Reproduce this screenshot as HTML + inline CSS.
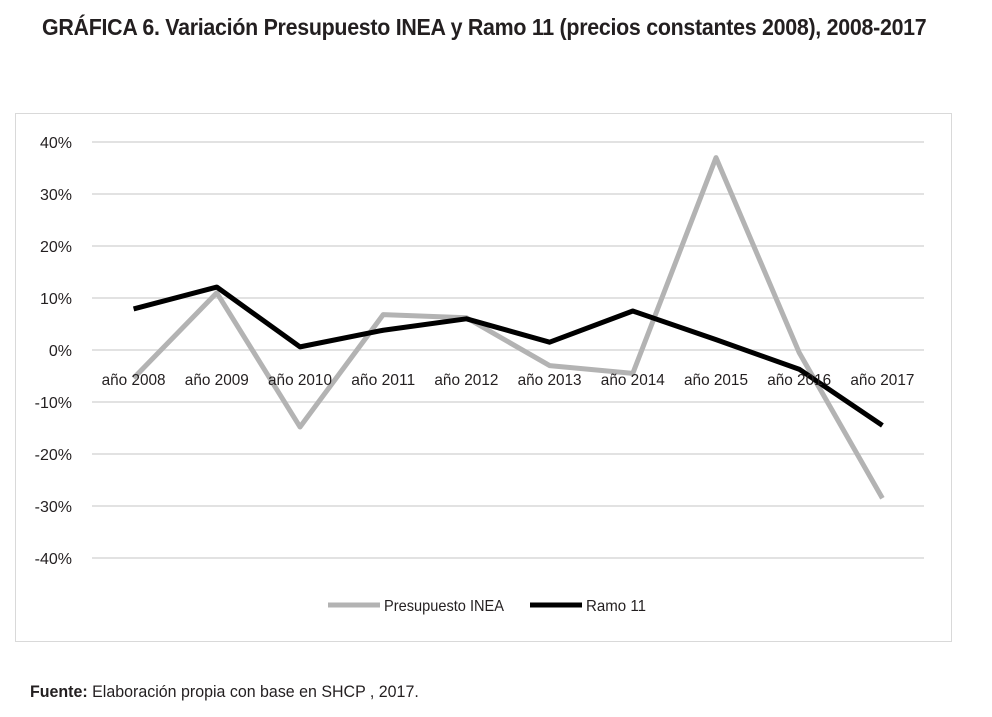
<!DOCTYPE html>
<html><head><meta charset="utf-8">
<style>
body{margin:0;background:#fff;width:992px;height:717px;overflow:hidden;font-family:"Liberation Sans Narrow","Liberation Sans",sans-serif;}
#title{position:absolute;left:42px;top:14px;font-size:23px;color:#231f20;font-weight:bold;letter-spacing:-0.3px;white-space:nowrap;transform:scaleX(0.93);transform-origin:0 0;}
#source{position:absolute;left:30px;top:682px;font-size:17px;color:#231f20;white-space:nowrap;transform:scaleX(0.94);transform-origin:0 0;}
svg{position:absolute;left:0;top:0;}
</style></head><body>
<div id="title">GRÁFICA 6. Variación Presupuesto INEA y Ramo 11 (precios constantes 2008), 2008-2017</div>
<svg id="chart" width="992" height="717"></svg>
<div id="source"><b>Fuente:</b> Elaboración propia con base en SHCP , 2017.</div>
<script>
const categories=["año 2008","año 2009","año 2010","año 2011","año 2012","año 2013","año 2014","año 2015","año 2016","año 2017"];
const ineaValues=[-5.4,11,-14.8,6.8,6.2,-3,-4.5,37,-0.5,-28.5];
const ramoValues=[7.9,12.1,0.6,3.8,6,1.5,7.5,2,-3.7,-14.5];
const yTicks=[40,30,20,10,0,-10,-20,-30,-40];
const yTickLabels=["40%","30%","20%","10%","0%","-10%","-20%","-30%","-40%"];
const NS="http://www.w3.org/2000/svg";
const svg=document.getElementById('chart');
const left=92,width=832,band=width/categories.length;
const y=v=>350-v*5.2;
const x=i=>left+band*(i+0.5);
function mk(t,a){const e=document.createElementNS(NS,t);for(const k in a)e.setAttribute(k,a[k]);svg.appendChild(e);return e;}
const frame=mk('rect',{x:15.5,y:113.5,width:936,height:528,fill:'none',stroke:'#d9d9d9'});


yTicks.forEach((t,i)=>{
 const g=mk('line',{x1:left,x2:left+width,y1:y(t),y2:y(t),stroke:'#d9d9d9','stroke-width':1.5});
 
 
 const l=mk('text',{x:72,y:y(t)+6,'text-anchor':'end','font-size':16,fill:'#231f20'});
 l.textContent=yTickLabels[i];
 
 
});
function series(vals,color,name){
 const p=mk('polyline',{points:vals.map((v,i)=>x(i)+','+y(v)).join(' '),fill:'none',stroke:color,'stroke-width':5,'stroke-linejoin':'round'});
 
 
}
series(ineaValues,'#b3b3b3','series-presupuesto-inea');
series(ramoValues,'#000','series-ramo-11');
categories.forEach((c,i)=>{
 const t=mk('text',{x:x(i),y:385,'text-anchor':'middle','font-size':16,fill:'#231f20',textLength:64,lengthAdjust:'spacingAndGlyphs'});
 t.textContent=c;
 
 
});
const l1=mk('line',{x1:328,x2:380,y1:605,y2:605,stroke:'#b3b3b3','stroke-width':5});


const t1=mk('text',{x:384,y:611,'font-size':16,fill:'#231f20',textLength:120,lengthAdjust:'spacingAndGlyphs'});t1.textContent='Presupuesto INEA';


const l2=mk('line',{x1:530,x2:582,y1:605,y2:605,stroke:'#000','stroke-width':5});


const t2=mk('text',{x:586,y:611,'font-size':16,fill:'#231f20',textLength:60,lengthAdjust:'spacingAndGlyphs'});t2.textContent='Ramo 11';


</script>
</body></html>
